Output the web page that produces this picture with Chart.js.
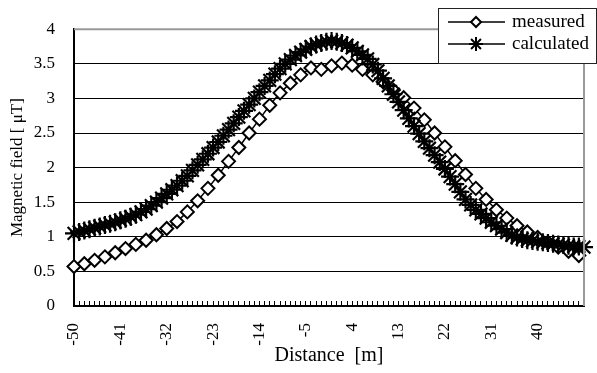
<!DOCTYPE html>
<html>
<head>
<meta charset="utf-8">
<script src="https://cdn.jsdelivr.net/npm/chart.js@4.4.1/dist/chart.umd.min.js"></script>
<style>
    html, body { margin: 0; padding: 0; background: #fff; }
</style>
</head>
<body>
<canvas id="fieldChart" width="597" height="373"></canvas>
<script>
// distance along the line, 1 m steps
const distances = [
    -50, -49, -48, -47, -46, -45, -44, -43, -42, -41,
    -40, -39, -38, -37, -36, -35, -34, -33, -32, -31,
    -30, -29, -28, -27, -26, -25, -24, -23, -22, -21,
    -20, -19, -18, -17, -16, -15, -14, -13, -12, -11,
    -10, -9, -8, -7, -6, -5, -4, -3, -2, -1,
    0, 1, 2, 3, 4, 5, 6, 7, 8, 9,
    10, 11, 12, 13, 14, 15, 16, 17, 18, 19,
    20, 21, 22, 23, 24, 25, 26, 27, 28, 29,
    30, 31, 32, 33, 34, 35, 36, 37, 38, 39,
    40, 41, 42, 43, 44, 45, 46, 47, 48, 49
];

const calculated = [
    1.05, 1.07, 1.09, 1.11, 1.13, 1.15, 1.17, 1.19, 1.21, 1.24,
    1.26, 1.29, 1.32, 1.36, 1.40, 1.45, 1.50, 1.56, 1.62, 1.68,
    1.74, 1.81, 1.88, 1.96, 2.04, 2.12, 2.20, 2.29, 2.37, 2.46,
    2.55, 2.64, 2.73, 2.82, 2.91, 3.00, 3.09, 3.18, 3.26, 3.35,
    3.43, 3.50, 3.56, 3.62, 3.67, 3.71, 3.75, 3.78, 3.80, 3.82,
    3.83, 3.82, 3.80, 3.77, 3.73, 3.68, 3.63, 3.57, 3.49, 3.40,
    3.29, 3.18, 3.06, 2.95, 2.83, 2.71, 2.60, 2.49, 2.38, 2.28,
    2.18, 2.08, 1.98, 1.87, 1.76, 1.65, 1.54, 1.46, 1.39, 1.33,
    1.27, 1.21, 1.16, 1.11, 1.06, 1.02, 0.99, 0.97, 0.95, 0.94,
    0.93, 0.92, 0.91, 0.90, 0.89, 0.88, 0.87, 0.86, 0.86, 0.85
];

// measured every 2 m
const measuredDistances = [
    -50, -48, -46, -44, -42, -40, -38, -36, -34, -32,
    -30, -28, -26, -24, -22, -20, -18, -16, -14, -12,
    -10, -8, -6, -4, -2, 0, 2, 4, 6, 8,
    10, 12, 14, 16, 18, 20, 22, 24, 26, 28,
    30, 32, 34, 36, 38, 40, 42, 44, 46, 48
];

const measured = [
    0.57, 0.61, 0.66, 0.71, 0.77, 0.83, 0.89, 0.95, 1.03, 1.12,
    1.22, 1.36, 1.52, 1.70, 1.89, 2.09, 2.29, 2.50, 2.70, 2.90,
    3.08, 3.22, 3.34, 3.44, 3.42, 3.47, 3.51, 3.48, 3.42, 3.34,
    3.24, 3.12, 3.01, 2.86, 2.69, 2.50, 2.30, 2.10, 1.90, 1.70,
    1.54, 1.39, 1.27, 1.16, 1.07, 0.99, 0.92, 0.85, 0.79, 0.73
];

const xTickLabels = [-50, -41, -32, -23, -14, -5, 4, 13, 22, 31, 40];

const serif = '"Liberation Serif", "Times New Roman", serif';

function toPoints(xs, ys) {
    let pts = [];
    for (let i = 0; i < xs.length; i++) {
        pts.push({ x: xs[i], y: ys[i] });
    }
    return pts;
}

// grey plot frame + boxed legend in the top right corner
const frameAndLegend = {
    id: 'frameAndLegend',
    afterDraw(chart) {
        const ctx = chart.ctx;
        const area = chart.chartArea;
        ctx.save();
        ctx.strokeStyle = '#999';
        ctx.lineWidth = 2;
        ctx.beginPath();
        ctx.moveTo(area.left, area.top);
        ctx.lineTo(area.right, area.top);
        ctx.lineTo(area.right, area.bottom);
        ctx.stroke();

        const bx = 438, by = 8, bw = 158, bh = 55;
        ctx.fillStyle = '#fff';
        ctx.fillRect(bx, by, bw, bh);
        ctx.strokeStyle = '#222';
        ctx.lineWidth = 1;
        ctx.strokeRect(bx + 0.5, by + 0.5, bw, bh);

        const rows = [22, 44];
        chart.data.datasets.forEach((ds, i) => {
            const y = rows[i];
            ctx.strokeStyle = '#000';
            ctx.lineWidth = 1.5;
            ctx.beginPath();
            ctx.moveTo(448, y);
            ctx.lineTo(505, y);
            ctx.stroke();
            ctx.fillStyle = '#fff';
            ctx.lineWidth = 2;
            Chart.helpers.drawPoint(ctx, {
                pointStyle: ds.pointStyle,
                radius: ds.pointStyle === 'star' ? 7 : 5,
                borderWidth: 2,
                rotation: 0
            }, 476, y);
            ctx.fillStyle = '#000';
            ctx.font = '19px ' + serif;
            ctx.textBaseline = 'middle';
            ctx.textAlign = 'left';
            ctx.fillText(ds.label, 512, y);
        });
        ctx.restore();
    }
};

new Chart(document.getElementById('fieldChart'), {
    type: 'line',
    data: {
        datasets: [{
            label: 'measured',
            data: toPoints(measuredDistances, measured),
            borderColor: '#000',
            borderWidth: 1.5,
            pointStyle: 'rectRot',
            pointRadius: 6.5,
            pointBorderWidth: 2,
            pointBackgroundColor: '#fff',
            pointBorderColor: '#000',
            clip: false,
            order: 1
        }, {
            label: 'calculated',
            data: toPoints(distances, calculated),
            borderColor: '#000',
            borderWidth: 1.5,
            pointStyle: 'star',
            pointRadius: 9,
            pointBorderWidth: 2.2,
            pointBorderColor: '#000',
            clip: false,
            order: 0
        }]
    },
    options: {
        responsive: false,
        animation: false,
        layout: { padding: { top: 29, right: 13, left: 0, bottom: 0 } },
        plugins: {
            legend: { display: false },
            tooltip: { enabled: false }
        },
        scales: {
            x: {
                type: 'linear',
                min: -50,
                max: 49,
                afterFit(scale) {
                    scale.height = 67;
                    scale.paddingLeft = 0;
                    scale.paddingRight = 0;
                },
                border: { color: '#000', width: 2 },
                grid: { drawOnChartArea: false, drawTicks: true, tickLength: -5, color: '#000', lineWidth: 1 },
                ticks: {
                    stepSize: 1,
                    autoSkip: false,
                    minRotation: 90,
                    maxRotation: 90,
                    padding: 22,
                    color: '#000',
                    font: { family: serif, size: 17 },
                    callback: (v) => xTickLabels.includes(v) ? String(v) : ''
                },
                title: {
                    display: true,
                    text: 'Distance  [m]',
                    color: '#000',
                    font: { family: serif, size: 20 },
                    padding: { top: 0, bottom: 5 }
                }
            },
            y: {
                min: 0,
                max: 4,
                afterFit(scale) { scale.width = 74; },
                border: { color: '#000', width: 2 },
                grid: {
                    drawTicks: false,
                    color: (c) => c.tick && c.tick.value === 4 ? 'rgba(0,0,0,0)' : '#000',
                    lineWidth: 1
                },
                ticks: {
                    stepSize: 0.5,
                    padding: 19,
                    color: '#000',
                    font: { family: serif, size: 17 },
                    callback: (v) => String(v)
                },
                title: {
                    display: true,
                    text: 'Magnetic field [ μT]',
                    color: '#000',
                    font: { family: serif, size: 17 },
                    padding: { top: 7, bottom: 0 }
                }
            }
        }
    },
    plugins: [frameAndLegend]
});
</script>
</body>
</html>
